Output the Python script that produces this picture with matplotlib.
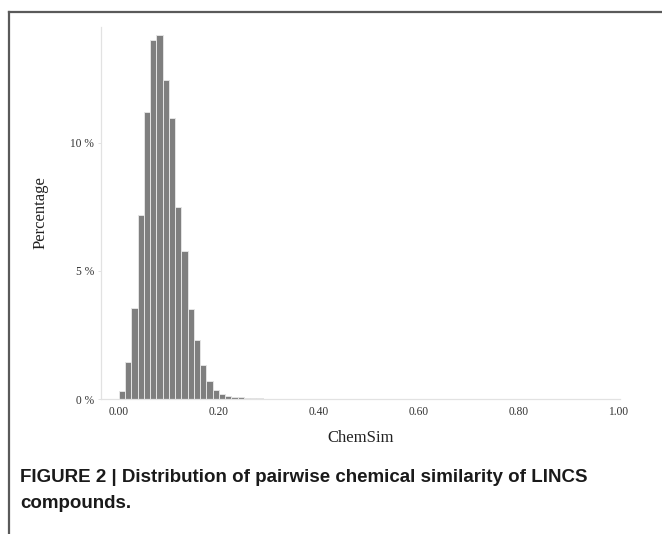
import matplotlib
matplotlib.use("Agg")
import matplotlib.pyplot as plt
from matplotlib.lines import Line2D
import numpy as np

# Histogram of pairwise ChemSim (bin width 0.0125, 80 bins from 0 to 1), percent per bin
bin_width = 0.0125
percent = [
    0.32, 1.45, 3.55, 7.20, 11.19, 14.00, 14.20, 12.47, 10.97, 7.48,
    5.76, 3.52, 2.30, 1.34, 0.72, 0.35, 0.18, 0.12, 0.08, 0.06,
    0.04, 0.03, 0.02, 0.015, 0.012, 0.010, 0.008, 0.007, 0.006, 0.005,
    0.005, 0.004, 0.004, 0.004, 0.003, 0.003, 0.003, 0.003, 0.003, 0.003,
    0.003, 0.003, 0.003, 0.003, 0.003, 0.003, 0.003, 0.003, 0.003, 0.003,
    0.003, 0.003, 0.003, 0.003, 0.003, 0.003, 0.003, 0.003, 0.003, 0.003,
    0.003, 0.003, 0.003, 0.003, 0.003, 0.003, 0.003, 0.003, 0.003, 0.003,
    0.003, 0.003, 0.003, 0.003, 0.003, 0.003, 0.003, 0.003, 0.003, 0.003,
]
bin_left = [i * bin_width for i in range(len(percent))]

x_ticks = [0.0, 0.2, 0.4, 0.6, 0.8, 1.0]
x_tick_labels = ["0.00", "0.20", "0.40", "0.60", "0.80", "1.00"]
y_ticks = [0, 5, 10]
y_tick_labels = ["0 %", "5 %", "10 %"]

x_label = "ChemSim"
y_label = "Percentage"
caption = ["FIGURE 2 | Distribution of pairwise chemical similarity of LINCS",
           "compounds."]

W, H = 662, 534
fig = plt.figure(figsize=(W / 100, H / 100), dpi=100)
fig.patch.set_facecolor("white")

ax = fig.add_axes([101 / W, 1 - 399 / H, (620 - 101) / W, (399 - 27) / H])
ax.bar(bin_left, percent, width=bin_width, align="edge",
       color="#7f7f7f", edgecolor="#e4e4e4", linewidth=0.7)

ax.set_xlim(-0.036, 1.003)
ax.set_ylim(0, 14.52)

serif = ["Liberation Serif", "DejaVu Serif"]
ax.set_xticks(x_ticks)
ax.set_xticklabels(x_tick_labels, fontfamily=serif, fontsize=8.3, color="#333333")
ax.set_yticks(y_ticks)
ax.set_yticklabels(y_tick_labels, fontfamily=serif, fontsize=8.3, color="#333333")
ax.tick_params(axis="x", length=0, pad=5)
ax.tick_params(axis="y", length=2.5, width=0.6, color="#dddddd", pad=2.5)

for side in ["top", "right"]:
    ax.spines[side].set_visible(False)
for side in ["left", "bottom"]:
    ax.spines[side].set_color("#e2e2e2")
    ax.spines[side].set_linewidth(0.9)

ax.set_xlabel(x_label, fontfamily=serif, fontsize=12, color="#222222", labelpad=9)
ax.set_ylabel(y_label, fontfamily=serif, fontsize=12, color="#222222", labelpad=15.5)

# page frame (top and left rules)
fig.add_artist(Line2D([8.5 / W, 1.0], [1 - 12 / H, 1 - 12 / H],
                      transform=fig.transFigure, color="#5a5a5a", linewidth=1.6))
fig.add_artist(Line2D([8.5 / W, 8.5 / W], [1 - 12 / H, 0.0],
                      transform=fig.transFigure, color="#5a5a5a", linewidth=1.6))

cap_font = ["Liberation Sans Narrow", "Liberation Sans", "DejaVu Sans"]
fig.text(20 / W, 1 - 477 / H, caption[0], fontfamily=cap_font, fontweight="bold",
         fontsize=13.5, color="#1a1a1a", va="center", ha="left")
fig.text(20 / W, 1 - 503 / H, caption[1], fontfamily=cap_font, fontweight="bold",
         fontsize=13.5, color="#1a1a1a", va="center", ha="left")

fig.savefig("out.png", dpi=100, facecolor="white")
